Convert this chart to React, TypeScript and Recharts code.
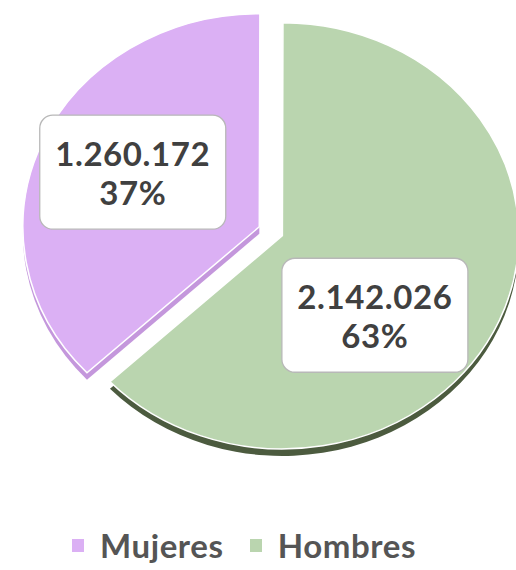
import React from "react";
import { PieChart, Pie, Cell, Legend } from "recharts";

const categories = ["Mujeres", "Hombres"];
const values = [1260172, 2142026];
const colors = ["#DBB0F4", "#BAD5AF"];
const edgeColors = ["#C497DC", "#4C5B3F"];

const data = categories.map((name, i) => ({ name, value: values[i] }));

const RADIAN = Math.PI / 180;
const R = 222;
// tilted pie: slightly wider than tall
const SX = 1.065;
const SY = 0.96;
const DEPTH = 7;
// slice centres: Mujeres is pulled out towards the upper left
const centers = [
  { cx: 254, cy: 222 },
  { cx: 277, cy: 231 },
];
const labelRadius = [0.62, 0.55];
const labelShift = [0, -17];
const FONT = "Lato";

const fmt = (v: number) => String(v).replace(/\B(?=(\d{3})+(?!\d))/g, ".");

const squash = (cx: number, cy: number) => ({
  transform: `scale(${SX}, ${SY})`,
  transformOrigin: `${cx}px ${cy}px`,
});

const makeLabel = (show: number) => (props: any) => {
  const { cx, cy, midAngle, outerRadius, index, value, percent } = props;
  if (index !== show) return null;
  const a = (midAngle + labelShift[index]) * RADIAN;
  const r = outerRadius * labelRadius[index];
  const x = cx + r * Math.cos(-a);
  const y = cy + r * Math.sin(-a);
  const w = 186;
  const h = 114;
  return (
    <g>
      <rect
        x={x - w / 2}
        y={y - h / 2}
        width={w}
        height={h}
        rx={13}
        fill="#ffffff"
        stroke="#b8b8b8"
        strokeWidth={1.3}
      />
      <text
        x={x}
        y={y - 19.5}
        textAnchor="middle"
        dominantBaseline="central"
        fill="#404040"
        fontSize={33}
        fontWeight={700}
        fontFamily={FONT}
        letterSpacing={0.6}
      >
        {fmt(value)}
      </text>
      <text
        x={x}
        y={y + 19.5}
        textAnchor="middle"
        dominantBaseline="central"
        fill="#404040"
        fontSize={33}
        fontWeight={700}
        fontFamily={FONT}
        letterSpacing={0.6}
      >
        {Math.round(percent * 100)}%
      </text>
    </g>
  );
};

const renderLegend = () => (
  <div
    style={{
      display: "flex",
      justifyContent: "center",
      alignItems: "center",
      paddingRight: 28,
      fontFamily: FONT,
      fontWeight: 700,
      fontSize: 33,
      letterSpacing: 0.6,
      color: "#555555",
    }}
  >
    {categories.map((c, i) => (
      <div
        key={c}
        style={{ display: "flex", alignItems: "center", marginLeft: i ? 26 : 0 }}
      >
        <span
          style={{
            display: "inline-block",
            width: 12,
            height: 13,
            background: colors[i],
            marginRight: 16,
          }}
        />
        <span>{c}</span>
      </div>
    ))}
  </div>
);

export default function App() {
  return (
    <div style={{ position: "absolute", left: 0, top: 0, background: "#fff" }}>
      <PieChart width={516} height={570}>
        {/* slice thickness drawn behind each slice */}
        {centers.map((c, k) => (
          <Pie
            key={"edge" + k}
            data={data}
            dataKey="value"
            nameKey="name"
            cx={c.cx}
            cy={c.cy + DEPTH}
            outerRadius={R}
            startAngle={223.2}
            endAngle={-136.8}
            stroke="none"
            isAnimationActive={false}
            legendType="none"
          >
            {data.map((d, i) => (
              <Cell
                key={d.name}
                fill={i === k ? edgeColors[i] : "none"}
                style={squash(c.cx, c.cy + DEPTH)}
              />
            ))}
          </Pie>
        ))}
        {centers.map((c, k) => (
          <Pie
            key={"top" + k}
            data={data}
            dataKey="value"
            nameKey="name"
            cx={c.cx}
            cy={c.cy}
            outerRadius={R}
            startAngle={223.2}
            endAngle={-136.8}
            isAnimationActive={false}
            labelLine={false}
            label={makeLabel(k)}
          >
            {data.map((d, i) => (
              <Cell
                key={d.name}
                fill={i === k ? colors[i] : "none"}
                stroke={i === k ? "#ffffff" : "none"}
                strokeWidth={1.5}
                style={squash(c.cx, c.cy)}
              />
            ))}
          </Pie>
        ))}
        <Legend
          content={renderLegend}
          wrapperStyle={{ top: 525, left: 0, width: 516 }}
        />
      </PieChart>
    </div>
  );
}
